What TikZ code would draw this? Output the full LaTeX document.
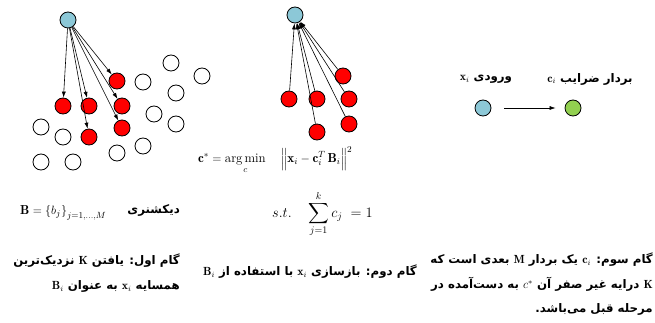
\documentclass[tikz,border=0pt]{standalone}
\usepackage{amsmath}
\usepackage{fontspec}
\newfontfamily\farsi[Script=Arabic]{DejaVu Sans}
\TeXXeTstate=1
\usetikzlibrary{arrows.meta}
\definecolor{queryblue}{RGB}{140,200,215}
\definecolor{coefgreen}{RGB}{146,208,80}
\tikzset{
  atom/.style={circle, draw, line width=0.8pt, minimum size=16pt, inner sep=0pt},
  query/.style={atom, fill=queryblue},
  near/.style={atom, fill=red},
  far/.style={atom, fill=white},
  coef/.style={atom, fill=coefgreen},
  link/.style={-{Latex[length=6pt,width=4pt]}, line width=0.6pt},
  fa/.style={font=\farsi\bfseries\fontsize{11.8}{24.5}\selectfont, inner sep=0pt},
  eq/.style={font=\fontsize{13}{15}\selectfont, inner sep=0pt}
}
\begin{document}
\begin{tikzpicture}[x=1pt,y=-1pt]
\useasboundingbox (0,0) rectangle (655,323);
\node[query] (q1) at (68,20) {};
\node[near] (r1) at (117,81) {};
\node[near] (r2) at (63,106) {};
\node[near] (r3) at (89,106) {};
\node[near] (r4) at (122,106) {};
\node[near] (r5) at (89,137) {};
\node[near] (r6) at (122,128) {};
\node[far] (w1) at (171,63) {};
\node[far] (w2) at (202,76) {};
\node[far] (w3) at (143,82) {};
\node[far] (w4) at (176,93) {};
\node[far] (w5) at (154,114) {};
\node[far] (w6) at (176,124) {};
\node[far] (w7) at (143,146) {};
\node[far] (w8) at (117,153) {};
\node[far] (w9) at (41,127) {};
\node[far] (w10) at (63,137) {};
\node[far] (w11) at (41,162) {};
\node[far] (w12) at (73,162) {};
\draw[link] (q1) -- (r1);
\draw[link] (q1) -- (r2);
\draw[link] (q1) -- (r3);
\draw[link] (q1) -- (r4);
\draw[link] (q1) -- (r5);
\draw[link] (q1) -- (r6);

\node[query] (q2) at (295,15) {};
\node[near] (s1) at (343,76) {};
\node[near] (s2) at (289,99) {};
\node[near] (s3) at (317,99) {};
\node[near] (s4) at (349,99) {};
\node[near] (s5) at (317,132) {};
\node[near] (s6) at (349,124) {};
\draw[link] (s1) -- (q2);
\draw[link] (s2) -- (q2);
\draw[link] (s3) -- (q2);
\draw[link] (s4) -- (q2);
\draw[link] (s5) -- (q2);
\draw[link] (s6) -- (q2);

\node[query] (xin) at (483,108) {};
\node[coef] (cout) at (573,108) {};
\draw[link, shorten <=13pt, shorten >=9pt] (xin) -- (cout);
\node[fa] (xlabel) at (486,79) {\beginR ورودی \beginL$\mathbf{x}_i$\endL\endR};
\node[fa] (clabel) at (590,79) {\beginR بردار ضرایب \beginL$\mathbf{c}_i$\endL\endR};

\node[eq, anchor=west] (obj) at (198,160) {$\displaystyle\mathbf{c}^{*}=\operatorname*{arg\,min}_{c}\quad\left\|\mathbf{x}_i-\mathbf{c}_i^{T}\,\mathbf{B}_i\right\|^{2}$};
\node[eq, font=\fontsize{14}{16}\selectfont, anchor=west] (cons) at (272,214) {$s.t.\quad\displaystyle\sum_{j=1}^{k}c_j\;=1$};
\node[eq, anchor=west] (dict) at (20,213) {$\mathbf{B}=\left\{b_j\right\}_{j=1,\dots,M}$};
\node[fa, anchor=east] (dictlabel) at (180,210) {\beginR دیکشنری\endR};

\node[fa, anchor=north east, align=right] (step1) at (180,254) {\beginR گام اول: یافتن \beginL$\mathbf{K}$\endL{} نزدیک‌ترین\endR\\\beginR همسایه \beginL$\mathbf{x}_i$\endL{} به عنوان \beginL$\mathbf{B}_i$\endL\endR};
\node[fa, anchor=east] (step2) at (417,272) {\beginR گام دوم: بازسازی \beginL$\mathbf{x}_i$\endL{} با استفاده از \beginL$\mathbf{B}_i$\endL\endR};
\node[fa, anchor=north east, align=right] (step3) at (653,253) {\beginR گام سوم: \beginL$\mathbf{c}_i$\endL{} یک بردار \beginL$\mathbf{M}$\endL{} بعدی است که\endR\\\beginR \beginL$\mathbf{K}$\endL{} درایه غیر صفر آن \beginL$c^{*}$\endL{} به دست‌آمده در\endR\\\beginR مرحله قبل می‌باشد.\endR};
\end{tikzpicture}
\end{document}
